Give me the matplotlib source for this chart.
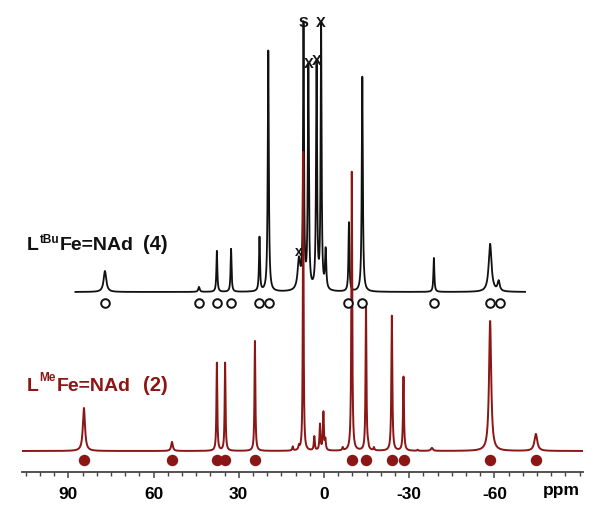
import numpy as np
import matplotlib
matplotlib.use("Agg")
import matplotlib.pyplot as plt

# ---------------- data ----------------
# L^tBu Fe=NAd (4): peak positions (ppm), heights, half-widths (ppm)
tbu_ppm = [77.1, 44.0, 37.7, 32.7, 22.7, 19.6, 8.8, 7.2, 5.5, 2.6, 1.0, -0.6, -8.8, -13.5, -38.7, -58.5, -61.5]
tbu_int = [21, 5, 41, 43, 54, 241, 30, 263, 222, 224, 263, 39, 69, 215, 34, 48, 10]
tbu_hw = [0.55, 0.3, 0.2, 0.2, 0.2, 0.22, 0.55, 0.2, 0.22, 0.22, 0.2, 0.25, 0.2, 0.22, 0.2, 0.6, 0.45]
tbu_circles = [77.1, 44.0, 37.7, 32.7, 22.7, 19.4, -8.4, -13.4, -38.7, -58.5, -62.0]
tbu_marks = ["x", "S", "X", "X", "X"]
tbu_mark_ppm = [8.8, 7.2, 5.5, 2.6, 1.0]
tbu_mark_top = [252, 23, 64, 61, 23]          # label heights (pixel rows)

# L^Me Fe=NAd (2)
me_ppm = [84.5, 53.5, 37.7, 34.8, 24.3, 11.0, 8.8, 7.3, 3.4, 1.4, 0.2, -0.5, -6.6, -9.8, -14.8, -15.5, -17.6, -23.9, -28.0, -33.0, -38.0, -58.5, -74.6]
me_int = [43, 9, 88, 88, 110, 4, 4, 299, 14, 26, 38, 10, 3, 279, 148, 3, 3, 135, 74, 1, 3, 130, 17]
me_hw = [0.45, 0.35, 0.18, 0.18, 0.18, 0.2, 0.2, 0.15, 0.2, 0.2, 0.2, 0.2, 0.2, 0.18, 0.18, 0.2, 0.2, 0.2, 0.2, 0.2, 0.4, 0.45, 0.6]
me_dots = [84.5, 53.5, 37.7, 34.8, 24.3, -9.8, -14.8, -23.9, -28.2, -58.5, -74.6]

ticks = [90, 60, 30, 0, -30, -60]
tick_labels = ["90", "60", "30", "0", "-30", "-60"]

# label pieces: (text, gap_before_px, baseline_px, fontsize)
tbu_label = [("L", 0, 250, 14), ("tBu", 0.5, 243, 8.5), ("Fe=NAd", 0.5, 250, 14), ("(4)", 9, 250, 14.5)]
me_label = [("L", 0, 391, 14), ("Me", 0.5, 381, 8.5), ("Fe=NAd", 1, 391, 14), ("(2)", 12, 391, 14.5)]

RED = "#8a1616"
BLACK = "#111111"

plt.rcParams["font.family"] = ["Liberation Sans", "DejaVu Sans"]

W, H = 601, 522
fig = plt.figure(figsize=(W / 100, H / 100), dpi=100)
ax_bottom = 472
ax = fig.add_axes([22 / W, (H - ax_bottom) / H, (583 - 22) / W, ax_bottom / H])
ax.set_xlim(106.3, -91.2)
ax.set_ylim(0, ax_bottom)

def prow(y):
    return ax_bottom - y

def spectrum(x, pos, inten, hw):
    y = np.zeros_like(x)
    for p, a, w in zip(pos, inten, hw):
        y += a / (1 + ((x - p) / w) ** 2)
    return y

# black spectrum
xb = np.linspace(87.5, -70.8, 30000)
yb = spectrum(xb, tbu_ppm, tbu_int, tbu_hw)
ax.plot(xb, yb + prow(292), color=BLACK, lw=1.3, zorder=2)

# red spectrum
xr = np.linspace(106.3, -91.2, 40000)
yr = spectrum(xr, me_ppm, me_int, me_hw)
ax.plot(xr, yr + prow(451), color=RED, lw=1.4, zorder=3)

# markers
ax.plot(tbu_circles, [prow(302.7)] * len(tbu_circles), "o", ms=6.2, mfc="white",
        mec=BLACK, mew=1.4, zorder=4, clip_on=False)
ax.plot(me_dots, [prow(459.5)] * len(me_dots), "o", ms=7.2, color=RED, zorder=4, clip_on=False)

for lab, p, t in zip(tbu_marks, tbu_mark_ppm, tbu_mark_top):
    fs = 10.5 if lab != "x" else 10
    ax.text(p, prow(t), lab, ha="center", va="center", fontsize=fs, fontweight="bold",
            color=BLACK, zorder=5)

# compound labels, pieces placed one after another
renderer = fig.canvas.get_renderer()
for pieces, col in [(tbu_label, BLACK), (me_label, RED)]:
    xcur = 27.0
    for txt, gap, yp, fs in pieces:
        xcur += gap
        t = fig.text(xcur / W, 1 - yp / H, txt, fontsize=fs, fontweight="bold",
                     ha="left", va="baseline", color=col)
        bb = t.get_window_extent(renderer=renderer)
        xcur = bb.x1

# axis styling
for s in ["left", "right", "top"]:
    ax.spines[s].set_visible(False)
ax.spines["bottom"].set_color("#444444")
ax.spines["bottom"].set_linewidth(1.3)
ax.set_yticks([])
ax.set_xticks(ticks)
ax.set_xticklabels(tick_labels)
ax.set_xticks(np.arange(105, -91, -5), minor=True)
ax.tick_params(axis="x", which="major", direction="out", length=4.5, width=1.1,
               color="#444444", labelsize=12.5, pad=6)
ax.tick_params(axis="x", which="minor", direction="out", length=3, width=1.0, color="#444444")
for t in ax.get_xticklabels():
    t.set_fontweight("bold")
fig.text(561 / W, 1 - 491 / H, "ppm", fontsize=12.5, fontweight="bold", ha="center", va="center")

fig.savefig("out.png", dpi=100)
